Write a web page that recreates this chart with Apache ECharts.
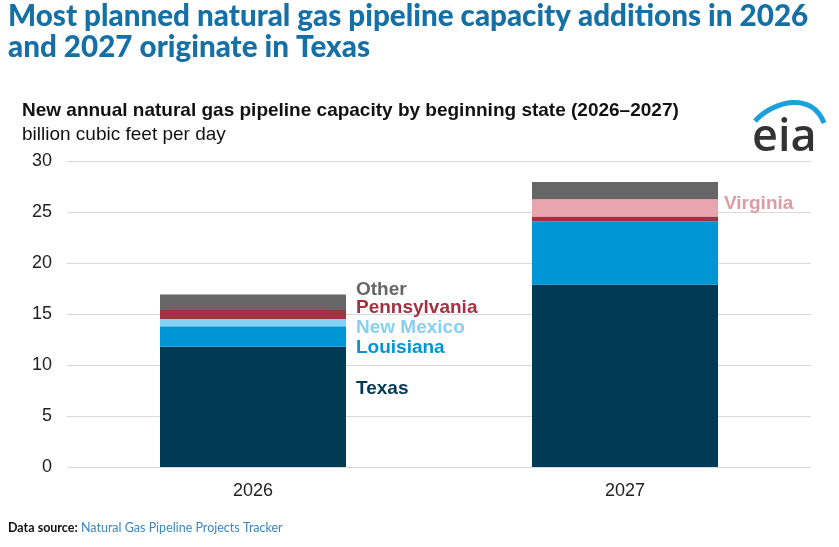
<!DOCTYPE html>
<html lang="en">
<head>
  <meta charset="UTF-8">
  <title>Natural gas pipeline capacity additions</title>
  <style>
    html, body { margin: 0; padding: 0; background: #fff; }
    #root { width: 839px; height: 547px; }
  </style>
</head>
<body>
  <div id="root"></div>
</body>
<script src="https://cdn.jsdelivr.net/npm/echarts@6/dist/echarts.min.js"></script>
<script>
  // values in billion cubic feet per day
  const years = ['2026', '2027']
  const texas = [11.8, 17.9]
  const louisiana = [2.0, 6.2]
  const newMexico = [0.7, 0]
  const pennsylvania = [0.9, 0.45]
  const virginia = [0, 1.7]
  const other = [1.5, 1.7]
  const yTicks = [0, 5, 10, 15, 20, 25, 30]

  const font = '"Liberation Sans", Arial, sans-serif'

  // which bar carries the direct label, and how far it is nudged
  const stack = [
    { name: 'Texas', data: texas, color: '#003a54', labelAt: 0, dx: 5, dy: -18 },
    { name: 'Louisiana', data: louisiana, color: '#0096d6', labelAt: 0, dx: 5, dy: 11 },
    { name: 'New Mexico', data: newMexico, color: '#86d1f3', labelAt: 0, dx: 5, dy: 5 },
    { name: 'Pennsylvania', data: pennsylvania, color: '#a4313f', labelAt: 0, dx: 5, dy: -7 },
    { name: 'Virginia', data: virginia, color: '#e8a5ad', labelColor: '#dc9ca5', labelAt: 1, dx: 1, dy: -4 },
    { name: 'Other', data: other, color: '#666666', labelAt: 0, dx: 5, dy: -13 }
  ]

  const series = stack.map(s => ({
    name: s.name,
    type: 'bar',
    stack: 'total',
    barWidth: '50%',
    itemStyle: { color: s.color },
    data: s.data.map((v, i) => ({
      value: v,
      label: {
        show: i === s.labelAt,
        position: 'right',
        distance: 5,
        offset: [s.dx, s.dy],
        formatter: s.name,
        color: s.labelColor || s.color,
        fontFamily: font,
        fontWeight: 'bold',
        fontSize: 19
      }
    }))
  }))

  let myChart = echarts.init(document.getElementById('root'))

  let option = {
    animation: false,
    grid: { left: 67, right: 28, top: 161, bottom: 80 },
    xAxis: {
      type: 'category',
      data: years,
      axisLine: { show: false },
      axisTick: { show: false },
      axisLabel: { color: '#222', fontFamily: font, fontSize: 18, margin: 15 }
    },
    yAxis: {
      type: 'value',
      min: yTicks[0],
      max: yTicks[yTicks.length - 1],
      interval: 5,
      axisLabel: { color: '#222', fontFamily: font, fontSize: 18, margin: 15 },
      splitLine: { lineStyle: { color: '#d9d9d9', width: 1 } }
    },
    series: series,
    graphic: [
      {
        type: 'text', left: 8, top: 1,
        style: {
          text: 'Most planned natural gas pipeline capacity additions in 2026\nand 2027 originate in Texas',
          fill: '#1570a6', font: '900 29.6px Lato, "Noto Sans", sans-serif', lineHeight: 31
        }
      },
      {
        type: 'text', left: 22, top: 101,
        style: {
          text: 'New annual natural gas pipeline capacity by beginning state (2026\u20132027)',
          fill: '#111', font: 'bold 19px ' + font
        }
      },
      {
        type: 'text', left: 22, top: 125,
        style: { text: 'billion cubic feet per day', fill: '#111', font: '19px ' + font }
      },
      {
        type: 'bezierCurve',
        shape: { x1: 755, y1: 121, cpx1: 775, cpy1: 100, cpx2: 812, cpy2: 92, x2: 824, y2: 123 },
        style: { stroke: '#1aa0dc', lineWidth: 5, fill: null }
      },
      {
        type: 'text', left: 752, top: 116,
        style: { text: 'eia', fill: '#333', font: '600 45px "Open Sans", sans-serif' }
      },
      {
        type: 'text', left: 8, top: 521,
        style: {
          text: '{b|Data source:} {l|Natural Gas Pipeline Projects Tracker}',
          rich: {
            b: { fill: '#111', font: 'bold 12.5px Lato, sans-serif' },
            l: { fill: '#3a86bf', font: '12.5px Lato, sans-serif' }
          }
        }
      }
    ]
  }

  myChart.setOption(option)
</script>
</html>
